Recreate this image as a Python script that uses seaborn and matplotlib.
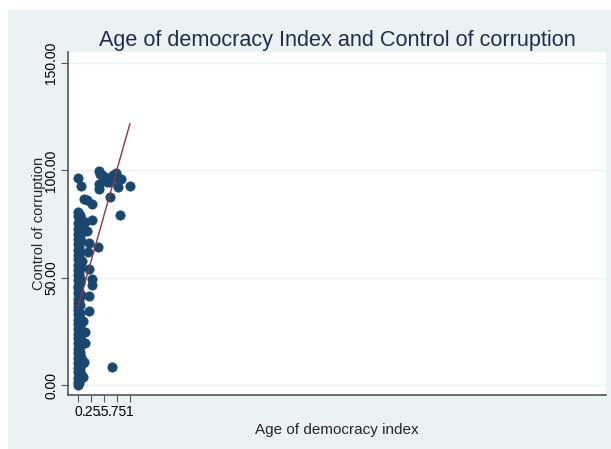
import numpy as np
import pandas as pd
import matplotlib
matplotlib.use('Agg')
import matplotlib.pyplot as plt
from matplotlib.patches import Rectangle
import seaborn as sns

sns.set_theme(style="white")
plt.rcParams['font.family'] = ['Liberation Sans', 'DejaVu Sans']

# ================= data =================
# dense column of young democracies (index ~0)
col_x = [0.0, 0.02, 0.0, 0.04, 0.0, 0.02, 0.05, 0.0, 0.03, 0.0,
         0.04, 0.0, 0.02, 0.0, 0.05, 0.0, 0.03, 0.0, 0.02, 0.04,
         0.0, 0.06, 0.0, 0.02, 0.0, 0.04, 0.0, 0.03, 0.0, 0.05,
         0.0, 0.02, 0.0, 0.04, 0.0, 0.0, 0.03, 0.0, 0.02, 0.0,
         0.05, 0.0, 0.02, 0.0, 0.0, 0.03, 0.0, 0.04, 0.0, 0.02,
         0.0, 0.05, 0.0, 0.03, 0.0, 0.02, 0.0, 0.04, 0.0, 0.02,
         0.0, 0.05, 0.0, 0.03, 0.0, 0.02, 0.0, 0.04, 0.0, 0.02,
         0.06, 0.0, 0.03, 0.0]
col_y = [0.0, 0.8, 1.5, 2.6, 3.4, 4.5, 5.3, 6.1, 7.4, 8.0,
         9.2, 10.1, 11.3, 12.6, 13.2, 14.8, 15.5, 16.9, 17.7, 18.4,
         19.8, 21.0, 21.9, 22.7, 23.8, 25.1, 26.0, 27.3, 28.2, 29.5,
         30.4, 31.6, 32.9, 33.5, 35.0, 36.2, 37.1, 38.4, 39.6, 40.3,
         41.9, 42.8, 44.0, 45.2, 46.3, 47.5, 48.9, 50.1, 51.4, 52.3,
         53.6, 54.8, 56.0, 57.2, 58.5, 59.6, 60.8, 62.1, 63.0, 64.4,
         65.7, 66.9, 68.1, 69.3, 70.4, 71.8, 72.9, 74.0, 75.3, 76.2,
         77.5, 78.6, 79.4, 80.8]

# scattered countries with older democracies
other_x = [0.0, 0.06, 0.41, 0.42, 0.47, 0.52, 0.40, 0.40, 0.55, 0.62,
           0.68, 0.73, 0.78, 0.83, 0.76, 1.00, 0.62, 0.80, 0.66, 0.115,
           0.17, 0.26, 0.27, 0.22, 0.38, 0.22, 0.26, 0.26, 0.22, 0.22,
           0.10, 0.13, 0.13, 0.115, 0.09, 0.20, 0.13, 0.17, 0.08, 0.10]
other_y = [96.6, 92.6, 99.7, 98.5, 97.7, 96.9, 93.8, 91.5, 94.6, 94.6,
           98.1, 98.7, 96.1, 96.1, 92.2, 92.7, 87.6, 79.1, 8.2, 86.8,
           86.0, 84.5, 77.0, 66.2, 64.3, 54.0, 49.6, 46.5, 41.6, 34.6,
           10.4, 24.8, 19.4, 10.8, 3.9, 62.0, 76.0, 72.0, 58.0, 30.0]

# fitted line
fit_x = [0.0, 1.0]
fit_y = [36.2, 121.9]

y_ticks = [0, 50, 100, 150]
x_ticks = [0, 0.25, 0.5, 0.75, 1]
x_ticklabels = ['0', '.25', '.5', '.75', '1']
# ==============================================================

df = pd.DataFrame({'dem': col_x + other_x, 'corr': col_y + other_y})
fit_df = pd.DataFrame({'dem': fit_x, 'corr': fit_y})

W, H = 611, 449
fig = plt.figure(figsize=(W / 100, H / 100), dpi=100, facecolor='white')
fig.patches.append(Rectangle((8 / W, 0), (W - 8) / W, (H - 10) / H,
                             transform=fig.transFigure, facecolor='#eaf2f3',
                             edgecolor='none', zorder=-10))
ax = fig.add_axes([68 / W, 1 - 395 / H, (606 - 68) / W, (395 - 52) / H])
ax.set_facecolor('white')

navy = '#1a476f'
sns.scatterplot(data=df, x='dem', y='corr', ax=ax, color=navy, s=45,
                edgecolor=navy, linewidth=0.5, zorder=3)
sns.lineplot(data=fit_df, x='dem', y='corr', ax=ax, color='#90353b',
             linewidth=1.0, zorder=4)

ax.set_xlim(-0.192, 10.15)
ax.set_ylim(-4.66, 155.2)

ax.set_yticks(y_ticks)
ax.set_yticklabels([f'{v:.2f}' for v in y_ticks], rotation=90, va='center',
                   fontsize=10)
ax.set_xticks(x_ticks)
ax.set_xticklabels(x_ticklabels, fontsize=10)
ax.grid(True, axis='y', color='#eaf2f3', linewidth=1.0)
ax.set_axisbelow(True)

for side in ['top', 'right']:
    ax.spines[side].set_visible(False)
for side in ['left', 'bottom']:
    ax.spines[side].set_color('#555555')
    ax.spines[side].set_linewidth(1.2)
ax.tick_params(axis='both', direction='out', length=5, width=0.8,
               color='#555555', labelcolor='black', pad=2,
               bottom=True, left=True)

ax.set_xlabel('Age of democracy index', fontsize=11, labelpad=3)
ax.set_ylabel('Control of corruption', fontsize=10.5, labelpad=-1)
ax.set_title('Age of democracy Index and Control of corruption',
             fontsize=15.6, color='#1e2d53', pad=4)

fig.savefig('out.png', dpi=100, facecolor='white')
